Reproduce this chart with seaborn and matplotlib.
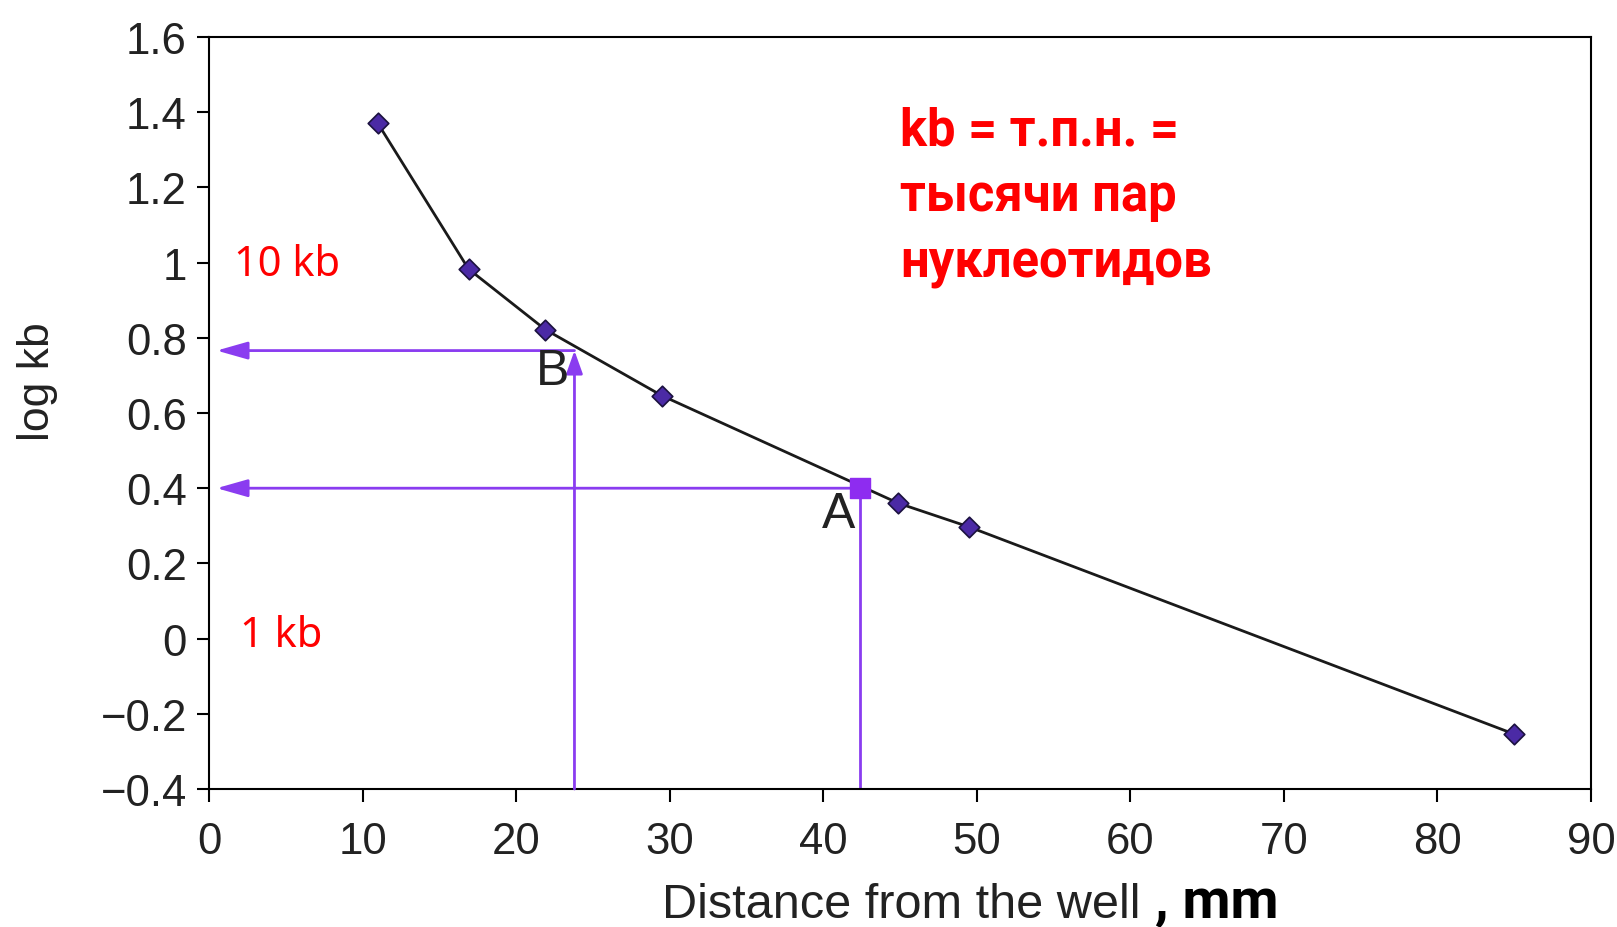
# Gel electrophoresis calibration curve: log kb vs distance from the well
import numpy as np
import pandas as pd
import seaborn as sns
import matplotlib.pyplot as plt

# %%
# Data
distance = [11.0, 16.9, 21.9, 29.5, 44.9, 49.5, 85.0]
log_kb = [1.37, 0.983, 0.822, 0.646, 0.360, 0.297, -0.254]
point_a = [42.4, 0.400]
point_b = [23.8, 0.766]
xticks = [0, 10, 20, 30, 40, 50, 60, 70, 80, 90]
yticks = [1.6, 1.4, 1.2, 1.0, 0.8, 0.6, 0.4, 0.2, 0.0, -0.2, -0.4]
ytick_labels = ['1.6', '1.4', '1.2', '1', '0.8', '0.6', '0.4', '0.2', '0',
                '\u22120.2', '\u22120.4']

df = pd.DataFrame({'distance': distance, 'log_kb': log_kb})

# %%
sns.set_style('ticks')
plt.rcParams['font.family'] = ['Liberation Sans', 'DejaVu Sans']

violet = '#8a3cf0'
txt = '#222222'
bold_font = ['Roboto', 'DejaVu Sans']

fig = plt.figure(figsize=(16.17, 9.28), dpi=100)
ax = fig.add_axes([209/1617, 1-790/928, (1591-209)/1617, (790-38)/928])

# calibration curve + markers
sns.lineplot(data=df, x='distance', y='log_kb', color='#1a1a1a', lw=2, ax=ax)
sns.scatterplot(data=df, x='distance', y='log_kb', marker='D', s=110,
                color='#4b2aa5', edgecolor='#1c1240', linewidth=1.2, ax=ax, zorder=4)

# reading lines for A and B
for px, py in [point_a, point_b]:
    ax.annotate('', xy=(0.5, py), xytext=(px, py),
                arrowprops=dict(arrowstyle='-|>,head_length=0.95,head_width=0.27',
                                color=violet, lw=2, mutation_scale=20,
                                shrinkA=0, shrinkB=0))
ax.plot([point_a[0], point_a[0]], [-0.4, point_a[1]], color=violet, lw=2)
ax.annotate('', xy=(point_b[0], point_b[1]), xytext=(point_b[0], -0.4),
            arrowprops=dict(arrowstyle='-|>,head_length=0.7,head_width=0.25',
                            color=violet, lw=2, mutation_scale=20,
                            shrinkA=0, shrinkB=0))
ax.scatter([point_a[0]], [point_a[1]], marker='s', s=225, color='#8e2cf0', zorder=5)

ax.text(22.4, 0.712, 'B', fontsize=36, color=txt, ha='center', va='center')
ax.text(41.0, 0.331, 'A', fontsize=36, color=txt, ha='center', va='center')
ax.text(5.08, 0.996, '10 kb', fontsize=30, color='red', ha='center', va='center',
        family=['Noto Sans', 'DejaVu Sans'])
ax.text(4.69, 0.010, '1 kb', fontsize=30, color='red', ha='center', va='center',
        family=['Noto Sans', 'DejaVu Sans'])

fig.text(900/1617, 1-106/928, 'kb = т.п.н. =\nтысячи пар\nнуклеотидов',
         fontsize=36.5, fontweight='bold', color='red', ha='left', va='top',
         linespacing=1.42, family=bold_font)

# axes
ax.set(xlim=[0, 90], ylim=[-0.4, 1.6], xlabel='', ylabel='')
ax.set_xticks(xticks)
ax.set_yticks(yticks)
ax.set_yticklabels(ytick_labels)
ax.tick_params(labelsize=31.5, length=9, width=1.5, colors='black', labelcolor=txt)
ax.tick_params(axis='x', pad=14)
ax.tick_params(axis='y', pad=7)
for s in ax.spines.values():
    s.set_visible(True)
    s.set_linewidth(1.5)
    s.set_color('black')

fig.text(38/1617, 1-382/928, 'log kb', rotation=90, fontsize=32, color=txt,
         ha='center', va='center')
fig.text(1140/1617, 1-906/928, 'Distance from the well', fontsize=35, color=txt,
         ha='right', va='center')
fig.text(1155/1617, 1-903/928, ', mm', fontsize=40, fontweight='bold', color='black',
         ha='left', va='center', family=bold_font)

fig.savefig('out.png', dpi=100)
